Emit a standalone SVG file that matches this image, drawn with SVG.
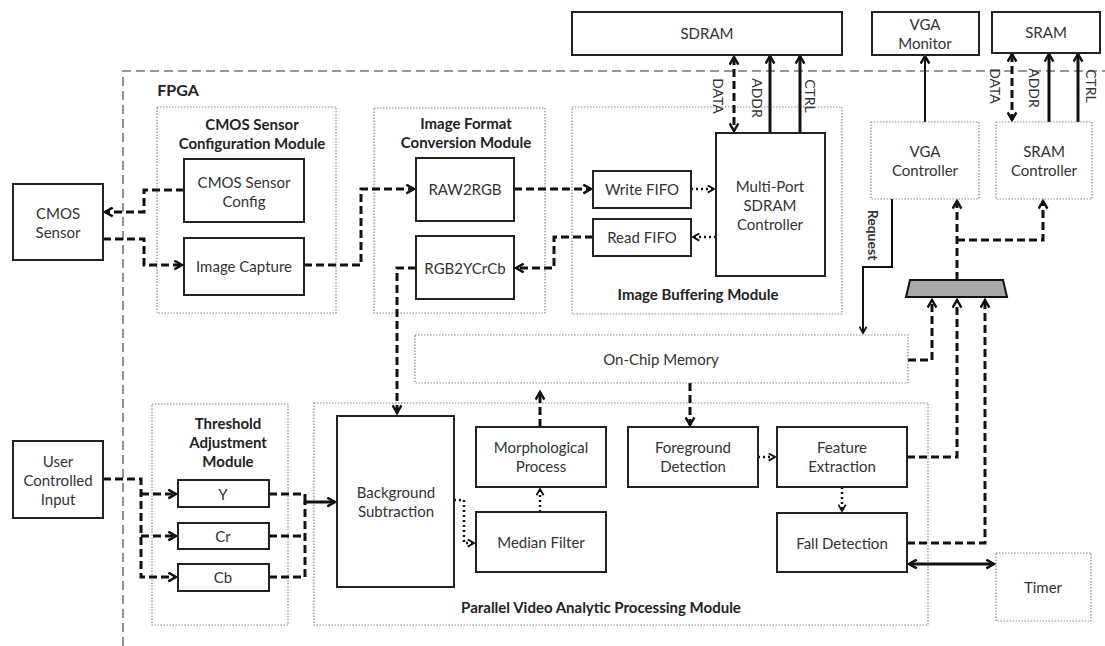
<svg xmlns="http://www.w3.org/2000/svg" width="1105" height="646" viewBox="0 0 1105 646">
<style>
text{font-family:Lato,"Liberation Sans",sans-serif;fill:#333;font-size:15px;text-anchor:middle;dominant-baseline:central}
.b{font-weight:bold;font-size:15px;fill:#222}
.s{font-size:14px}
.box{fill:#fff;stroke:#222;stroke-width:2}
.mod{fill:none;stroke:#888;stroke-width:1.2;stroke-dasharray:1.5,1.5}
.dbox{fill:#fff;stroke:#888;stroke-width:1.2;stroke-dasharray:1.5,1.5}
.fpga{fill:none;stroke:#777;stroke-width:1.6;stroke-dasharray:9,5}
.da{fill:none;stroke:#111;stroke-width:3;stroke-dasharray:8,4}
.do{fill:none;stroke:#111;stroke-width:2.5;stroke-dasharray:2,3}
.so{fill:none;stroke:#111;stroke-width:3}
.th{fill:none;stroke:#111;stroke-width:2}
</style>
<defs>
<marker id="ar" viewBox="0 0 10 10" refX="8.5" refY="5" markerWidth="11" markerHeight="11" markerUnits="userSpaceOnUse" orient="auto-start-reverse">
<path d="M1.5,1 L8.5,5 L1.5,9" fill="none" stroke="#111" stroke-width="2.2"/>
</marker>
<marker id="ar2" viewBox="0 0 10 10" refX="8.5" refY="5" markerWidth="9" markerHeight="9" markerUnits="userSpaceOnUse" orient="auto-start-reverse">
<path d="M1.5,1 L8.5,5 L1.5,9" fill="none" stroke="#111" stroke-width="2"/>
</marker>
</defs>
<rect width="1105" height="646" fill="#fff"/>

<g id="fpga">
<path class="fpga" d="M123,646 V71 H1105"/>
<text class="b" x="178" y="89" style="font-size:16px">FPGA</text>
</g>

<g id="modules">
<g id="cmos-config-module"><rect class="mod" x="157" y="107" width="179" height="206"/>
<text class="b" x="252" y="124">CMOS Sensor</text><text class="b" x="252" y="143">Configuration  Module</text></g>
<g id="image-format-module"><rect class="mod" x="374" y="108" width="171" height="205"/>
<text class="b" x="466" y="123">Image Format</text><text class="b" x="466" y="142">Conversion Module</text></g>
<g id="image-buffering-module"><rect class="mod" x="572" y="107" width="270" height="207"/>
<text class="b" x="698" y="294">Image Buffering Module</text></g>
<g id="threshold-module"><rect class="mod" x="152" y="404" width="136" height="221"/>
<text class="b" x="228" y="423">Threshold</text><text class="b" x="228" y="442">Adjustment</text><text class="b" x="228" y="461">Module</text></g>
<g id="parallel-module"><rect class="mod" x="314" y="403" width="614" height="222"/>
<text class="b" x="601" y="607">Parallel Video Analytic Processing Module</text></g>
</g>

<g id="connectors">
<path class="da" d="M734,57 V131" marker-start="url(#ar)" marker-end="url(#ar)"/>
<path class="so" d="M770,133 V56" marker-end="url(#ar)"/>
<path class="so" d="M800,133 V56" marker-end="url(#ar)"/>
<path class="da" d="M1012,54 V120" marker-start="url(#ar)" marker-end="url(#ar)"/>
<path class="so" d="M1049,122 V54" marker-end="url(#ar)"/>
<path class="so" d="M1078,122 V54" marker-end="url(#ar)"/>
<path class="th" d="M925,122 V56" marker-end="url(#ar)"/>
<path class="da" d="M184,190 H144 V212 H105" marker-end="url(#ar)"/>
<path class="da" d="M103,239 H144 V265 H182" marker-end="url(#ar)"/>
<path class="da" d="M304,265 H361 V189 H414" marker-end="url(#ar)"/>
<path class="da" d="M514,189 H591" marker-end="url(#ar)"/>
<path class="do" d="M691,189 H714" marker-end="url(#ar2)"/>
<path class="do" d="M716,237 H693" marker-end="url(#ar2)"/>
<path class="da" d="M593,237 H554 V268 H516" marker-end="url(#ar)"/>
<path class="da" d="M416,268 H397 V413" marker-end="url(#ar)"/>
<path class="da" d="M103,479 H141 V577 H176" marker-end="url(#ar)"/>
<path class="da" d="M141,494 H176" marker-end="url(#ar)"/>
<path class="da" d="M141,536 H176" marker-end="url(#ar)"/>
<path class="da" d="M269,494 H305"/>
<path class="da" d="M269,536 H305"/>
<path class="da" d="M269,577 H305 V502"/>
<path class="so" d="M305,494 V502 H335" marker-end="url(#ar)"/>
<path class="do" d="M454,500 H464 V543 H474" marker-end="url(#ar2)"/>
<path class="do" d="M540,512 V489" marker-end="url(#ar2)"/>
<path class="da" d="M540,427 V392" marker-end="url(#ar)"/>
<path class="da" d="M690,383 V425" marker-end="url(#ar)"/>
<path class="do" d="M758,457 H775" marker-end="url(#ar2)"/>
<path class="do" d="M842,487 V511" marker-end="url(#ar2)"/>
<path class="so" d="M909,564 H994" marker-start="url(#ar)" marker-end="url(#ar)"/>
<path class="da" d="M908,360 H932 V300" marker-end="url(#ar)"/>
<path class="da" d="M907,457 H957 V300" marker-end="url(#ar)"/>
<path class="da" d="M907,543 H985 V300" marker-end="url(#ar)"/>
<path class="da" d="M957,280 V201" marker-end="url(#ar)"/>
<path class="da" d="M957,240 H1043 V201" marker-end="url(#ar)"/>
<path class="th" d="M892,199 V267 H863 V333" marker-end="url(#ar2)"/>
</g>

<g id="labels">
<text class="s" transform="translate(718,96) rotate(90)">DATA</text>
<text class="s" transform="translate(757,98) rotate(90)">ADDR</text>
<text class="s" transform="translate(810,96) rotate(90)">CTRL</text>
<text class="s" transform="translate(995,86) rotate(90)">DATA</text>
<text class="s" transform="translate(1034,88) rotate(90)">ADDR</text>
<text class="s" transform="translate(1091,86) rotate(90)">CTRL</text>
<text class="s" transform="translate(873,235) rotate(90)" style="font-weight:bold">Request</text>
</g>

<g id="sdram"><rect class="box" x="572" y="12" width="270" height="43"/><text x="707" y="33">SDRAM</text></g>
<g id="vga-monitor"><rect class="box" x="872" y="12" width="107" height="43"/><text x="925" y="24">VGA</text><text x="925" y="43">Monitor</text></g>
<g id="sram"><rect class="box" x="992" y="12" width="108" height="41"/><text x="1046" y="32">SRAM</text></g>

<g id="cmos-sensor"><rect class="box" x="13" y="184" width="90" height="76"/><text x="58" y="213">CMOS</text><text x="58" y="232">Sensor</text></g>
<g id="cmos-sensor-config"><rect class="box" x="184" y="159" width="120" height="63"/><text x="244" y="182">CMOS Sensor</text><text x="244" y="201">Config</text></g>
<g id="image-capture"><rect class="box" x="184" y="238" width="120" height="57"/><text x="244" y="266">Image Capture</text></g>
<g id="raw2rgb"><rect class="box" x="416" y="158" width="98" height="63"/><text x="465" y="189">RAW2RGB</text></g>
<g id="rgb2ycrcb"><rect class="box" x="416" y="236" width="98" height="63"/><text x="465" y="268">RGB2YCrCb</text></g>
<g id="write-fifo"><rect class="box" x="593" y="171" width="98" height="37"/><text x="642" y="189">Write FIFO</text></g>
<g id="read-fifo"><rect class="box" x="593" y="219" width="98" height="37"/><text x="642" y="237">Read FIFO</text></g>
<g id="multiport-sdram-controller"><rect class="box" x="716" y="133" width="109" height="143"/><text x="770" y="186">Multi-Port</text><text x="770" y="205">SDRAM</text><text x="770" y="224">Controller</text></g>
<g id="vga-controller"><rect class="dbox" x="871" y="122" width="108" height="77"/><text x="925" y="151">VGA</text><text x="925" y="170">Controller</text></g>
<g id="sram-controller"><rect class="dbox" x="996" y="122" width="96" height="77"/><text x="1044" y="151">SRAM</text><text x="1044" y="170">Controller</text></g>
<g id="mux"><path d="M910,280 H1003 L1007,297 H906 Z" fill="#a8a8a8" stroke="#111" stroke-width="2"/></g>
<g id="on-chip-memory"><rect class="dbox" x="415" y="335" width="493" height="48"/><text x="661" y="359">On-Chip Memory</text></g>

<g id="user-input"><rect class="box" x="13" y="441" width="90" height="77"/><text x="58" y="461">User</text><text x="58" y="480">Controlled</text><text x="58" y="499">Input</text></g>
<g id="y"><rect class="box" x="178" y="480" width="91" height="27"/><text x="223" y="494">Y</text></g>
<g id="cr"><rect class="box" x="178" y="523" width="91" height="26"/><text x="223" y="536">Cr</text></g>
<g id="cb"><rect class="box" x="178" y="564" width="91" height="27"/><text x="223" y="577">Cb</text></g>
<g id="background-subtraction"><rect class="box" x="337" y="416" width="117" height="171"/><text x="396" y="492">Background</text><text x="396" y="511">Subtraction</text></g>
<g id="morphological-process"><rect class="box" x="476" y="427" width="130" height="60"/><text x="541" y="447">Morphological</text><text x="541" y="466">Process</text></g>
<g id="median-filter"><rect class="box" x="476" y="512" width="130" height="60"/><text x="541" y="542">Median Filter</text></g>
<g id="foreground-detection"><rect class="box" x="628" y="427" width="130" height="60"/><text x="693" y="447">Foreground</text><text x="693" y="466">Detection</text></g>
<g id="feature-extraction"><rect class="box" x="777" y="427" width="130" height="60"/><text x="842" y="447">Feature</text><text x="842" y="466">Extraction</text></g>
<g id="fall-detection"><rect class="box" x="777" y="513" width="130" height="59"/><text x="842" y="543">Fall Detection</text></g>
<g id="timer"><rect class="dbox" x="996" y="553" width="95" height="68"/><text x="1043" y="587">Timer</text></g>
</svg>
